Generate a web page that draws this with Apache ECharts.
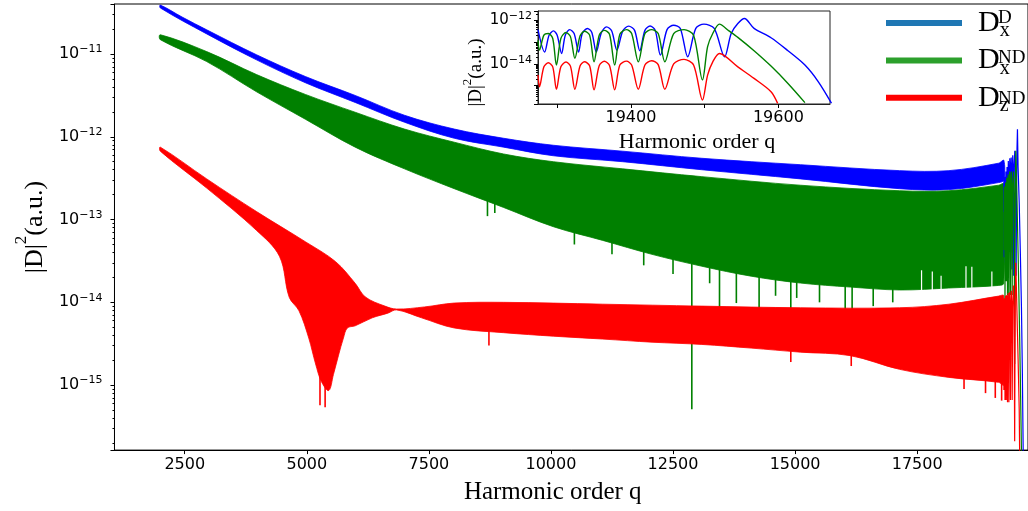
<!DOCTYPE html>
<html><head><meta charset="utf-8">
<script src="https://cdn.jsdelivr.net/npm/echarts@6/dist/echarts.min.js"></script>
<style>html,body{margin:0;padding:0;background:#fff}#c{width:1028px;height:511px}</style>
</head><body><div id="c"></div><script>
// ---- tick labels ----
const mainXTicks = [2500, 5000, 7500, 10000, 12500, 15000, 17500];
const zoomXTicks = [19400, 19600];
const zoomYExps = [-12, -14];

// ---- legend ----
const legendNames = ['Dx^D', 'Dx^ND', 'Dz^ND'];
const legendSubs = ['x', 'x', 'z'];
const legendSups = ['D', 'ND', 'ND'];

// ---- main plot: envelopes of the dense oscillation [q, |D|^2] ----
const dxdUpper = [[2000,3.9e-11],[2445,2.8e-11],[2950,1.96e-11],[3970,9.8e-12],[4970,5.35e-12],[5990,3.16e-12],[7000,1.82e-12],[8020,1.24e-12],[9030,9.6e-13],[10050,7.9e-13],[11470,6.7e-13],[13090,5.5e-13],[15110,4.6e-13],[17140,3.9e-13],[18150,3.9e-13],[19170,4.8e-13],[19274,5.2e-13]];
const dxdLower = [[2000,3.6e-11],[2950,1.75e-11],[3970,8.5e-12],[4970,4.5e-12],[5990,2.6e-12],[7000,1.5e-12],[8020,9.6e-13],[9030,7.5e-13],[10050,5.9e-13],[11470,5.0e-13],[13090,4.0e-13],[15110,3.1e-13],[17140,2.36e-13],[18150,2.3e-13],[19170,2.8e-13],[19274,3.0e-13]];
const dxdSpikes = [];
const dxdGaps = [];

const dxndUpper = [[2000,1.71e-11],[2950,1.07e-11],[3970,5.65e-12],[4970,3.25e-12],[5990,1.98e-12],[7000,1.24e-12],[8020,8.6e-13],[9030,6.2e-13],[10050,5.0e-13],[11470,4.1e-13],[13090,3.3e-13],[15110,2.6e-13],[17140,2.23e-13],[18150,2.23e-13],[19170,2.6e-13],[19274,2.7e-13]];
const dxndLower = [[2000,1.49e-11],[2950,8.1e-12],[3970,3.5e-12],[4970,1.63e-12],[5990,7.5e-13],[7000,4.1e-13],[8020,2.36e-13],[9030,1.4e-13],[10050,8.2e-14],[11060,5.6e-14],[12070,3.8e-14],[13090,2.73e-14],[14100,2.07e-14],[15110,1.71e-14],[16130,1.53e-14],[17140,1.41e-14],[18150,1.49e-14],[19170,1.6e-14],[19274,1.7e-14]];
// downward spikes below the lower edge: [q, edge value, tip value]
const dxndSpikes = [[8700,1.8e-13,1.1e-13],[8850,1.55e-13,1.2e-13],[10480,7.0e-14,5.0e-14],[11250,5.2e-14,3.8e-14],[11900,4.0e-14,2.8e-14],[12500,3.3e-14,2.2e-14],[12885,2.9e-14,5.1e-16],[13250,2.6e-14,1.7e-14],[13452,2.5e-14,4.9e-15],[13797,2.3e-14,9.8e-15],[14263,2.0e-14,6.9e-15],[14600,1.9e-14,1.2e-14],[14912,1.8e-14,4.5e-15],[15033,1.75e-14,1.13e-14],[15500,1.65e-14,1.0e-14],[16026,1.55e-14,5.7e-15],[16168,1.53e-14,4.3e-15],[16600,1.48e-14,9.0e-15],[17000,1.43e-14,1.0e-14]];
// narrow gaps rising into the band from its lower edge: [q, edge value, top of gap]
const dxndGaps = [[17590,1.41e-14,2.44e-14],[17810,1.42e-14,2.35e-14],[17990,1.45e-14,2.1e-14],[18500,1.5e-14,2.73e-14],[18620,1.52e-14,2.7e-14],[19030,1.57e-14,2.35e-14]];

const dzndUpper = [[2000,7.5e-13],[2950,3.1e-13],[3970,1.25e-13],[4970,5.4e-14],[5590,3.1e-14],[5990,1.7e-14],[6200,1.16e-14],[6600,9.0e-15],[6840,8.3e-15],[7410,8.8e-15],[8020,9.8e-15],[9030,1.0e-14],[11060,9.5e-15],[13090,9.0e-15],[15110,8.6e-15],[17140,8.6e-15],[18150,9.5e-15],[19170,1.19e-14],[19274,1.2e-14]];
const dzndLower = [[2000,6.7e-13],[2950,2.4e-13],[3970,7.4e-14],[4440,3.6e-14],[4640,1.15e-14],[4840,7.9e-15],[5040,3.7e-15],[5180,1.8e-15],[5300,1.1e-15],[5450,8.6e-16],[5545,1.34e-15],[5650,2.3e-15],[5750,3.7e-15],[5830,4.9e-15],[5990,5.2e-15],[6340,6.5e-15],[6660,7.4e-15],[6840,8.1e-15],[7350,6.5e-15],[8020,4.9e-15],[9030,4.3e-15],[10050,3.9e-15],[11060,3.6e-15],[12070,3.3e-15],[13090,3.1e-15],[14100,2.8e-15],[15110,2.5e-15],[16130,2.27e-15],[17140,1.55e-15],[18150,1.24e-15],[19170,1.08e-15],[19274,1.0e-15]];
const dzndSpikes = [[5270,1.2e-15,5.7e-16],[5375,9.5e-16,5.4e-16],[8730,4.3e-15,3.0e-15],[14912,2.6e-15,1.9e-15],[16150,2.3e-15,1.7e-15],[18460,1.2e-15,9.0e-16],[18900,1.12e-15,8.0e-16],[19100,1.1e-15,7.0e-16],[19230,1.05e-15,6.5e-16]];
const dzndGaps = [];

// ---- zoomed region near the cutoff [q, |D|^2] ----
const dxdZoom = [[19274,3.8e-13],[19283,3.5e-14],[19289,2.1e-13],[19295,3.3e-13],[19300,2.1e-13],[19306,3.0e-14],[19311,2.1e-13],[19317,3.8e-13],[19323,2.5e-13],[19329,3.5e-14],[19334,2.5e-13],[19341,4.3e-13],[19347,2.8e-13],[19353,3.5e-14],[19360,2.8e-13],[19367,5.1e-13],[19374,3.3e-13],[19381,4.3e-14],[19389,3.3e-13],[19397,5.5e-13],[19405,3.5e-13],[19412,4.0e-14],[19419,3.5e-13],[19426,5.6e-13],[19433,3.5e-13],[19440,2.5e-14],[19449,3.8e-13],[19458,6.0e-13],[19467,4.3e-13],[19477,2.1e-14],[19488,4.3e-13],[19499,6.8e-13],[19513,4.3e-13],[19527,2.1e-14],[19536,2.5e-13],[19545,7.2e-13],[19554,1.23e-12],[19567,4.3e-13],[19590,1.6e-13],[19613,4.0e-14],[19636,8.7e-15],[19654,1.5e-15],[19672,1.5e-16]];
const dxndZoom = [[19274,1.23e-13],[19276,4.3e-14],[19282,2.1e-13],[19288,2.5e-13],[19294,1.48e-13],[19299,8.7e-15],[19305,1.48e-13],[19312,2.8e-13],[19318,1.8e-13],[19324,1.8e-14],[19331,1.9e-13],[19337,3.2e-13],[19344,2.1e-13],[19350,1.23e-14],[19357,2.1e-13],[19364,3.5e-13],[19371,2.3e-13],[19378,8.7e-15],[19385,2.3e-13],[19394,3.8e-13],[19401,2.5e-13],[19410,1.23e-14],[19419,2.5e-13],[19428,3.8e-13],[19437,2.5e-13],[19446,1.23e-14],[19458,2.5e-13],[19472,3.8e-13],[19485,2.1e-13],[19497,1.8e-15],[19504,6.2e-14],[19511,2.5e-13],[19520,6.8e-13],[19533,3.3e-13],[19545,1.66e-13],[19567,4.0e-14],[19590,7.8e-15],[19613,1.23e-15],[19636,1.6e-16]];
const dzndZoom = [[19274,3.0e-15],[19276,8.7e-16],[19282,7.2e-15],[19288,1.12e-14],[19294,7.2e-15],[19299,6.6e-16],[19305,7.2e-15],[19312,1.2e-14],[19318,7.8e-15],[19324,6.6e-16],[19331,7.8e-15],[19337,1.23e-14],[19344,8.1e-15],[19350,6.2e-16],[19357,8.1e-15],[19364,1.3e-14],[19371,8.3e-15],[19378,6.2e-16],[19385,8.7e-15],[19394,1.32e-14],[19401,8.7e-15],[19410,6.6e-16],[19419,8.7e-15],[19428,1.38e-14],[19437,9.1e-15],[19446,6.6e-16],[19458,9.8e-15],[19472,1.6e-14],[19485,8.7e-15],[19497,2.1e-16],[19504,3.0e-15],[19511,1.23e-14],[19520,3.0e-14],[19545,7.2e-15],[19567,2.1e-15],[19590,5.1e-16],[19599,1.48e-16]];

const BLUE = '#0000ff', GREEN = '#008000', RED = '#ff0000';
const LEG_BLUE = '#1f77b4', LEG_GREEN = '#2ca02c', LEG_RED = '#ff0000';

function band(name, legendColor, color, upper, lower, spikes, gaps) {
  return {
    type: 'custom', name: name, xAxisIndex: 0, yAxisIndex: 0,
    itemStyle: { color: legendColor }, silent: true,
    data: [upper[0]],
    renderItem: function (params, api) {
      const pts = upper.map(p => api.coord(p)).concat(lower.slice().reverse().map(p => api.coord(p)));
      const children = [{ type: 'polygon', shape: { points: pts, smooth: 0.35 }, style: { fill: color, stroke: color, lineWidth: 0.8 } }];
      spikes.forEach(s => {
        const a = api.coord([s[0], s[1]]), b = api.coord([s[0], s[2]]);
        children.push({ type: 'line', shape: { x1: a[0], y1: a[1] - 3, x2: b[0], y2: b[1] }, style: { stroke: color, lineWidth: 1.6 } });
      });
      gaps.forEach(s => {
        const a = api.coord([s[0], s[1]]), b = api.coord([s[0], s[2]]);
        children.push({ type: 'line', shape: { x1: a[0], y1: a[1] + 2, x2: b[0], y2: b[1] }, style: { stroke: '#fff', lineWidth: 1.2 } });
      });
      return { type: 'group', children: children };
    }
  };
}
function line(name, data, color, xi, width, smooth) {
  return { type: 'line', name: name, data: data, xAxisIndex: xi, yAxisIndex: xi, showSymbol: false, symbol: 'none',
    smooth: smooth, silent: true, lineStyle: { color: color, width: width }, itemStyle: { color: color } };
}
function logLabel(v, only) {
  const l = Math.log10(v), e = Math.round(l);
  if (Math.abs(l - e) > 0.01) return '';
  if (only && only.indexOf(e) < 0) return '';
  return '{b|10}{s|\u2212' + (-e) + '}';
}

const chart = echarts.init(document.getElementById('c'), null, { renderer: 'canvas' });
chart.setOption({
  animation: false,
  backgroundColor: '#fff',
  grid: [
    { left: 107, right: -2, top: 4, bottom: 58, show: true, borderColor: '#000', borderWidth: 1 },
    { left: 538, top: 11, width: 292, height: 93, show: true, borderColor: '#222', borderWidth: 1 }
  ],
  legend: {
    data: legendNames, orient: 'vertical', left: 886, top: 8, padding: 0,
    itemWidth: 76, itemHeight: 6, itemGap: 4.4, icon: 'rect', selectedMode: false,
    formatter: function (name) { const i = legendNames.indexOf(name); return '{d|D}{b|' + legendSubs[i] + '}'; },
    textStyle: { rich: {
      d: { fontFamily: 'Liberation Serif', fontSize: 30, lineHeight: 36, color: '#000', padding: [0, 0, 0, 11] },
      b: { fontFamily: 'Liberation Serif', fontSize: 20, lineHeight: 16, verticalAlign: 'bottom', color: '#000' }
    } }
  },
  graphic: legendSups.map((t, i) => ({
    type: 'text', x: 998, y: 18 + i * 40.4, z: 10,
    style: { text: t, fontFamily: 'Liberation Serif', fontSize: 19, fill: '#000', align: 'left', verticalAlign: 'middle' }
  })),
  xAxis: [
    { gridIndex: 0, type: 'value', min: 1061, max: 19770, minInterval: 2500, maxInterval: 2500,
      axisLine: { onZero: false, lineStyle: { color: '#000' } }, axisTick: { length: 4, lineStyle: { color: '#000' } },
      splitLine: { show: false },
      axisLabel: { showMinLabel: false, showMaxLabel: false, color: '#000', fontFamily: 'DejaVu Sans', fontSize: 16, margin: 7,
        formatter: v => mainXTicks.indexOf(v) >= 0 ? String(v) : '' },
      name: 'Harmonic order q', nameLocation: 'middle', nameGap: 24,
      nameTextStyle: { fontFamily: 'Liberation Serif', fontSize: 25, color: '#000', lineHeight: 28, padding: [0, 37, 0, 0] } },
    { gridIndex: 1, type: 'value', min: 19274, max: 19670, minInterval: 100, maxInterval: 100,
      axisLine: { onZero: false, lineStyle: { color: '#222' } }, axisTick: { length: 4, lineStyle: { color: '#000' } },
      splitLine: { show: false },
      axisLabel: { showMinLabel: false, showMaxLabel: false, color: '#000', fontFamily: 'DejaVu Sans', fontSize: 16, margin: 6,
        formatter: v => zoomXTicks.indexOf(v) >= 0 ? String(v) : '' },
      name: 'Harmonic order q', nameLocation: 'middle', nameGap: 26,
      nameTextStyle: { fontFamily: 'Liberation Serif', fontSize: 22, color: '#000', lineHeight: 24, padding: [0, 0, 0, 26] } }
  ],
  yAxis: [
    { gridIndex: 0, type: 'log', min: 1.64e-16, max: 4.02e-11,
      axisLine: { show: true, lineStyle: { color: '#000' } }, axisTick: { show: true, length: 4, lineStyle: { color: '#000' } },
      minorTick: { show: true, splitNumber: 9, length: 2, lineStyle: { color: '#000' } },
      splitLine: { show: false }, minorSplitLine: { show: false },
      axisLabel: { showMinLabel: false, showMaxLabel: false, margin: 12, formatter: v => logLabel(v, null),
        rich: { b: { fontFamily: 'DejaVu Sans', fontSize: 16, lineHeight: 20, color: '#000' },
                s: { fontFamily: 'DejaVu Sans', fontSize: 11, lineHeight: 11, verticalAlign: 'top', color: '#000' } } },
      name: '{n||D|}{s|2}{n|(a.u.)}', nameLocation: 'middle', nameRotate: 90, nameGap: 56,
      nameTextStyle: { color: '#000', rich: {
        n: { fontFamily: 'Liberation Serif', fontSize: 26, lineHeight: 30, padding: [14, 0, 0, 0], color: '#000' },
        s: { fontFamily: 'Liberation Serif', fontSize: 17, lineHeight: 17, verticalAlign: 'top', color: '#000' } } } },
    { gridIndex: 1, type: 'log', min: 1.38e-16, max: 2.75e-12,
      axisLine: { show: true, lineStyle: { color: '#222' } }, axisTick: { show: true, length: 4, lineStyle: { color: '#000' } },
      minorTick: { show: true, splitNumber: 9, length: 2, lineStyle: { color: '#000' } },
      splitLine: { show: false }, minorSplitLine: { show: false },
      axisLabel: { showMinLabel: false, showMaxLabel: false, margin: 6, formatter: v => logLabel(v, zoomYExps),
        rich: { b: { fontFamily: 'DejaVu Sans', fontSize: 15, lineHeight: 19, color: '#000' },
                s: { fontFamily: 'DejaVu Sans', fontSize: 11, lineHeight: 11, verticalAlign: 'top', color: '#000' } } },
      name: '{n||D|}{s|2}{n|(a.u.)}', nameLocation: 'middle', nameRotate: 90, nameGap: 48,
      nameTextStyle: { color: '#000', padding: [0, 30, 0, 0], rich: {
        n: { fontFamily: 'Liberation Serif', fontSize: 19, lineHeight: 22, padding: [9, 0, 0, 0], color: '#000' },
        s: { fontFamily: 'Liberation Serif', fontSize: 13, lineHeight: 13, verticalAlign: 'top', color: '#000' } } } }
  ],
  series: [
    band('Dx^D', LEG_BLUE, BLUE, dxdUpper, dxdLower, dxdSpikes, dxdGaps),
    line('Dx^D cutoff', dxdZoom, BLUE, 0, 1.2, false),
    band('Dx^ND', LEG_GREEN, GREEN, dxndUpper, dxndLower, dxndSpikes, dxndGaps),
    line('Dx^ND cutoff', dxndZoom, GREEN, 0, 1.2, false),
    band('Dz^ND', LEG_RED, RED, dzndUpper, dzndLower, dzndSpikes, dzndGaps),
    line('Dz^ND cutoff', dzndZoom, RED, 0, 1.2, false),
    line('Dx^D zoom', dxdZoom, BLUE, 1, 1.4, 0.3),
    line('Dx^ND zoom', dxndZoom, GREEN, 1, 1.4, 0.3),
    line('Dz^ND zoom', dzndZoom, RED, 1, 1.4, 0.3)
  ]
});
</script></body></html>
